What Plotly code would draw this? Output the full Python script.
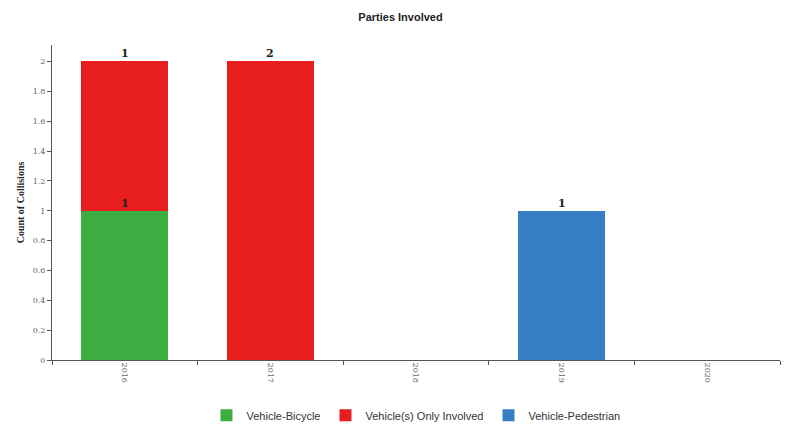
import plotly.graph_objects as go

years = ["2016", "2017", "2018", "2019", "2020"]
series_names = ["Vehicle-Bicycle", "Vehicle(s) Only Involved", "Vehicle-Pedestrian"]
bicycle = [1, 0, 0, 0, 0]
vehicle_only = [1, 2, 0, 0, 0]
pedestrian = [0, 0, 0, 1, 0]
colors = ["#3cae42", "#e81d1d", "#347ec4"]
y_ticks = [0, 0.2, 0.4, 0.6, 0.8, 1, 1.2, 1.4, 1.6, 1.8, 2]

all_series = [bicycle, vehicle_only, pedestrian]

fig = go.Figure()
for name, vals, col in zip(series_names, all_series, colors):
    fig.add_trace(go.Bar(
        x=years, y=vals, name=name,
        marker=dict(color=col, line=dict(width=0)),
        hovertemplate="%{x}: %{y}<extra>" + name + "</extra>",
    ))

# value labels at the top of each segment
cum = [0] * len(years)
annotations = []
for vals in all_series:
    for i, v in enumerate(vals):
        if v:
            cum[i] += v
            annotations.append(dict(
                x=i, y=cum[i], text="<b>" + str(v) + "</b>", showarrow=False,
                yanchor="bottom", yshift=-1,
                font=dict(family="DejaVu Serif", size=11, color="#222"),
                xref="x", yref="y"))

fig.update_layout(
    width=785, height=419,
    barmode="stack", bargap=0.4,
    paper_bgcolor="white", plot_bgcolor="white",
    margin=dict(l=44, r=13, t=37, b=67, autoexpand=False),
    title=dict(text="<b>Parties Involved</b>", x=0.5, xanchor="center", y=0.988, yanchor="top",
               font=dict(family="Liberation Sans", size=11, color="#222")),
    legend=dict(orientation="h", x=0.5, xanchor="center", yref="container", y=0.028, yanchor="middle",
                font=dict(family="Liberation Sans", size=11, color="#333"),
                traceorder="normal", itemwidth=30, tracegroupgap=0),
    annotations=annotations,
    showlegend=True,
)
fig.update_xaxes(
    type="category", categoryorder="array", categoryarray=years,
    range=[-0.5, 4.5], automargin=False,
    showline=True, linecolor="#555", linewidth=1,
    ticks="outside", tickson="boundaries", ticklen=4, tickcolor="#555",
    tickangle=90, tickfont=dict(family="DejaVu Serif", size=8, color="#666"),
    showgrid=False, zeroline=False,
)
fig.update_yaxes(
    range=[0, 2.11], tickvals=y_ticks, ticktext=[f"{t:g}" for t in y_ticks],
    automargin=False,
    showline=True, linecolor="#555", linewidth=1,
    ticks="outside", ticklen=4, tickcolor="#555",
    tickfont=dict(family="DejaVu Serif", size=8, color="#666"),
    showgrid=False, zeroline=False,
    title=dict(text="<b>Count of Collisions</b>", font=dict(family="Liberation Serif", size=10, color="#222"), standoff=6),
)

fig.write_html("out.html")
